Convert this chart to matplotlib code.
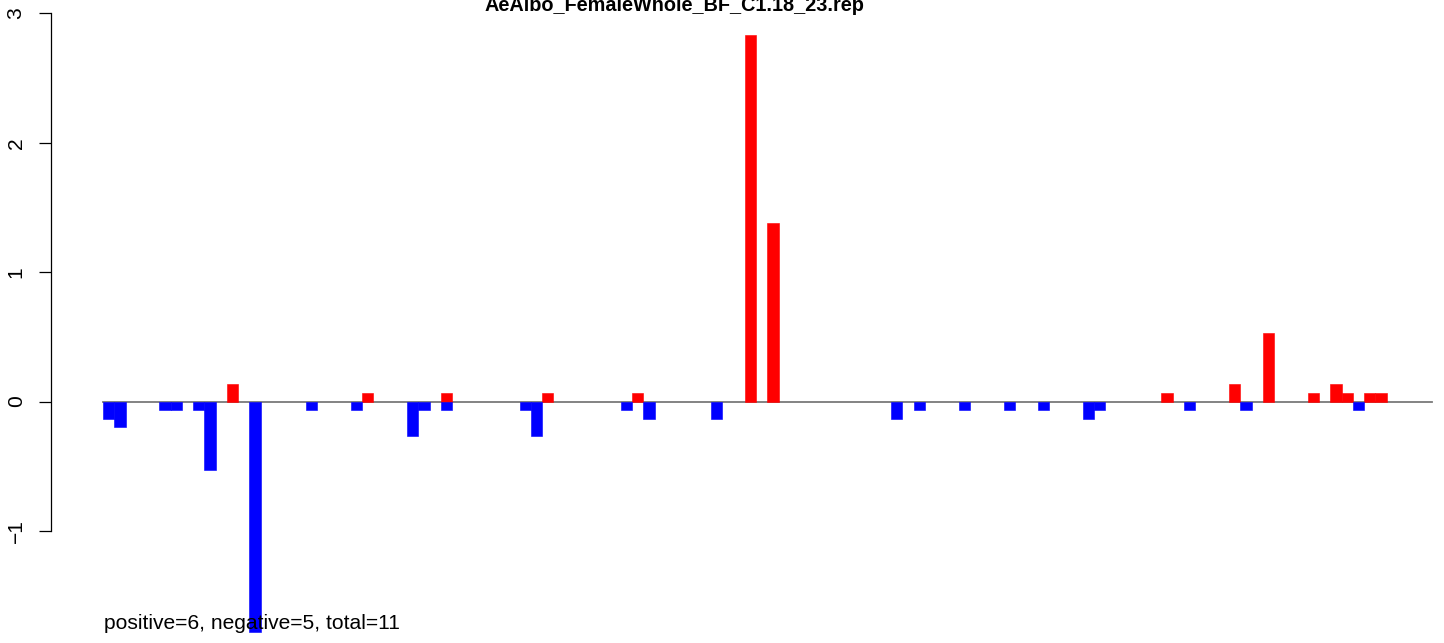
import matplotlib
matplotlib.use('Agg')
import matplotlib.pyplot as plt

plt.rcParams['font.family'] = ['Liberation Sans', 'DejaVu Sans']

# bins 0..117, red = positive counts, blue = negative counts
n_bins = 118
pos_bins = [11, 23, 30, 39, 47, 57, 59, 94, 100, 103, 107, 109, 110, 112, 113]
pos_vals = [0.133, 0.067, 0.067, 0.067, 0.067, 2.833, 1.383, 0.067, 0.133,
            0.533, 0.067, 0.133, 0.067, 0.067, 0.067]
neg_bins = [0, 1, 5, 6, 8, 9, 13, 18, 22, 27, 28, 30, 37, 38, 46, 48, 54,
            70, 72, 76, 80, 83, 87, 88, 96, 101, 111]
neg_vals = [-0.133, -0.2, -0.067, -0.067, -0.067, -0.533, -1.783, -0.067, -0.067,
            -0.267, -0.067, -0.067, -0.067, -0.267, -0.067, -0.133, -0.133,
            -0.133, -0.067, -0.067, -0.067, -0.067, -0.133, -0.067, -0.067,
            -0.067, -0.067]
y_ticks = [-1, 0, 1, 2, 3]
title = 'AeAlbo_FemaleWhole_BF_C1.18_23.rep'
note = 'positive=6, negative=5, total=11'

W, H = 1444, 643
fig = plt.figure(figsize=(W / 100, H / 100), dpi=100)
ax = fig.add_axes([0, 0, 1, 1])

# pixel mapping: bin 0 starts at x=103, 11.26 px per bin; y=0 at 401.5, 129.4 px per unit
x0, bw = 103, 11.26
y0, yu = 401.5, 129.4
ax.set_xlim(-x0 / bw, (W - x0) / bw)
ax.set_ylim(-(H - y0) / yu, y0 / yu)

ax.plot([0, n_bins], [0, 0], color='#7a7a7a', lw=1.3, zorder=1)
ax.bar(pos_bins, pos_vals, width=1, align='edge', color='red',
       edgecolor='red', lw=0.4, zorder=2)
ax.bar(neg_bins, neg_vals, width=1, align='edge', color='blue',
       edgecolor='blue', lw=0.4, zorder=2)

for s in ['top', 'right', 'bottom']:
    ax.spines[s].set_visible(False)
ax.spines['left'].set_position(('axes', 50.5 / W))
ax.spines['left'].set_bounds(-1, 3)
ax.spines['left'].set_linewidth(0.9)
ax.set_xticks([])
ax.set_yticks(y_ticks)
ax.set_yticklabels([str(t).replace('-', '\u2212') for t in y_ticks])
ax.tick_params(axis='y', length=8.9, width=0.9, pad=9, labelsize=15.1,
               labelrotation=90)
for lab in ax.get_yticklabels():
    lab.set_va('center')

fig.text(674 / W, (H - 11) / H, title, ha='center', va='baseline',
         fontsize=14.3, fontweight='bold')
fig.text(104 / W, (H - 629) / H, note, ha='left', va='baseline',
         fontsize=15.1, zorder=5)

fig.savefig('out.png', dpi=100)
